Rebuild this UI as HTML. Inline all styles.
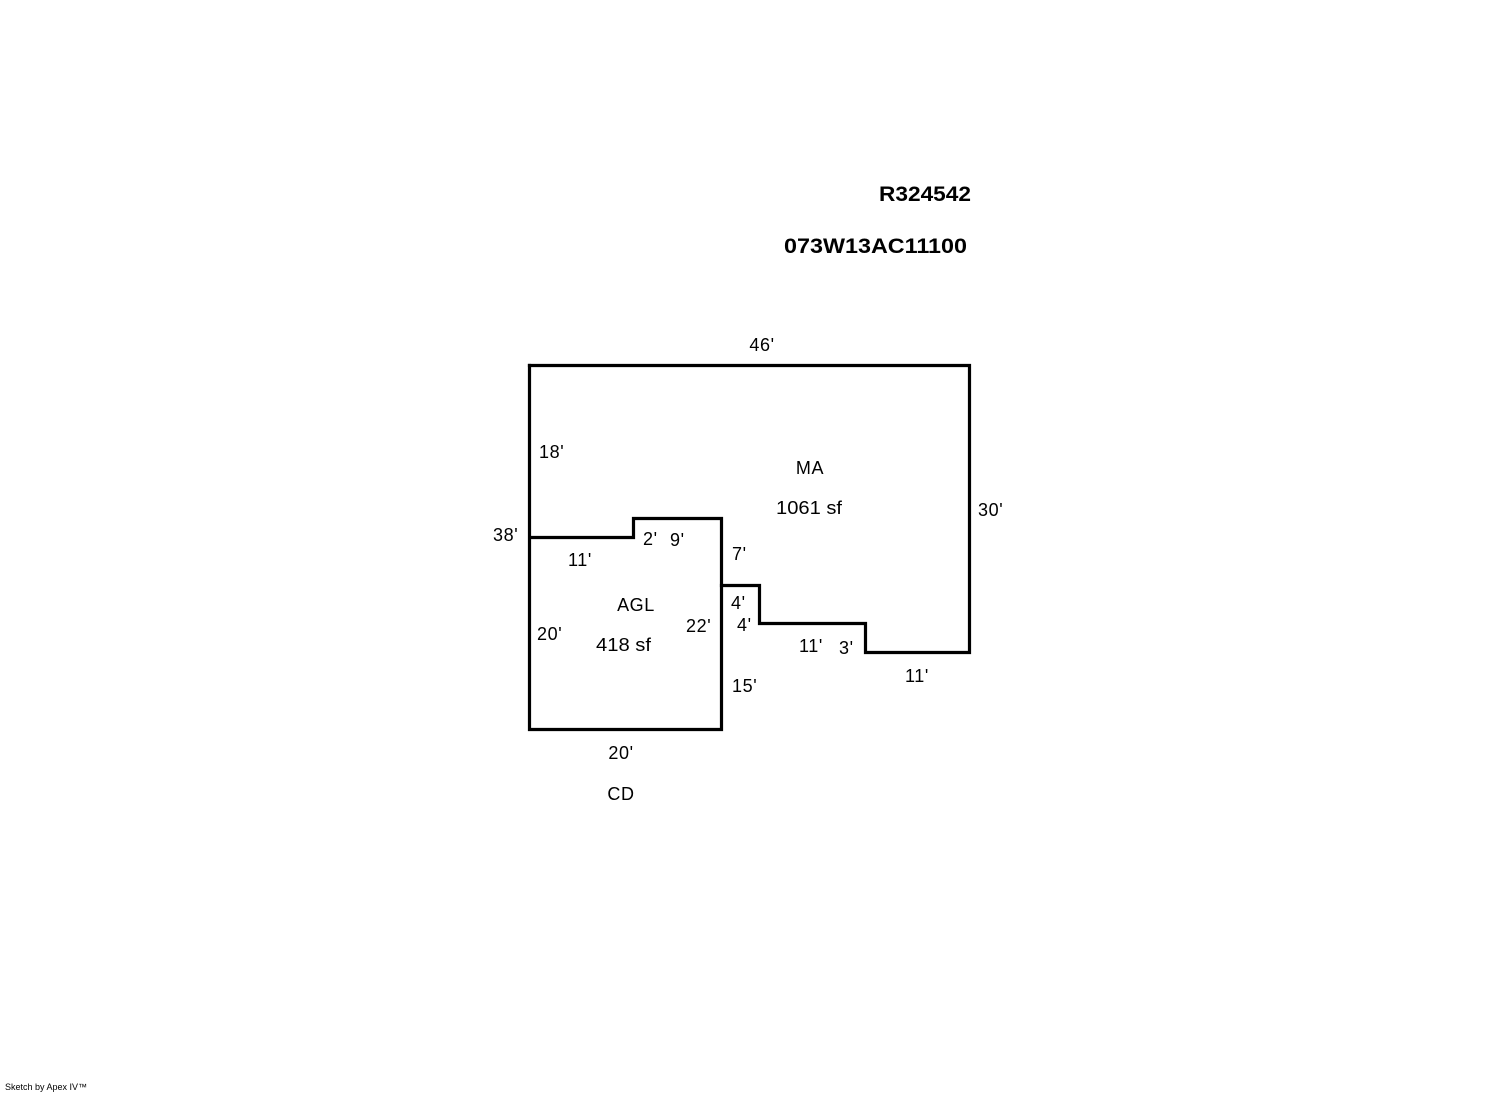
<!DOCTYPE html>
<html><head><meta charset="utf-8"><style>
html,body{margin:0;padding:0;background:#fff;}
svg{display:block;}
text{font-family:"Liberation Sans",Arial,sans-serif;fill:#000;}
</style></head><body>
<svg width="1492" height="1094" viewBox="0 0 1492 1094" xmlns="http://www.w3.org/2000/svg">
<rect width="1492" height="1094" fill="#fff"/>
<text x="879" y="201" font-size="21" font-weight="bold" textLength="92" lengthAdjust="spacingAndGlyphs">R324542</text>
<text x="784" y="253" font-size="21" font-weight="bold" textLength="183" lengthAdjust="spacingAndGlyphs">073W13AC11100</text>
<g fill="none" stroke="#000" stroke-width="3.2" stroke-linejoin="miter" stroke-linecap="square">
<path d="M529.5 365.5 H969.5 V652.5 H865.5 V623.5 H759.5 V585.5 H721.5"/>
<path d="M529.5 365.5 V729.5 H721.5 V518.5 H633.5 V537.5 H529.5"/>
</g>
<g font-size="18" letter-spacing="0.6">
<text x="762" y="351" text-anchor="middle">46'</text>
<text x="539" y="458">18'</text>
<text x="810" y="474" text-anchor="middle">MA</text>
<text x="776" y="514" textLength="66" lengthAdjust="spacingAndGlyphs" letter-spacing="0">1061 sf</text>
<text x="978" y="516">30'</text>
<text x="493" y="541">38'</text>
<text x="643" y="545">2'</text>
<text x="670" y="546">9'</text>
<text x="568" y="566">11'</text>
<text x="732" y="560">7'</text>
<text x="636" y="611" text-anchor="middle">AGL</text>
<text x="731" y="609">4'</text>
<text x="737" y="631">4'</text>
<text x="686" y="632">22'</text>
<text x="537" y="640">20'</text>
<text x="596" y="651" textLength="55" lengthAdjust="spacingAndGlyphs" letter-spacing="0">418 sf</text>
<text x="799" y="652">11'</text>
<text x="839" y="654">3'</text>
<text x="905" y="682">11'</text>
<text x="732" y="692">15'</text>
<text x="621" y="759" text-anchor="middle">20'</text>
<text x="621" y="800" text-anchor="middle">CD</text>
</g>
<text x="5" y="1090" font-size="9">Sketch by Apex IV™</text>
</svg>
</body></html>
